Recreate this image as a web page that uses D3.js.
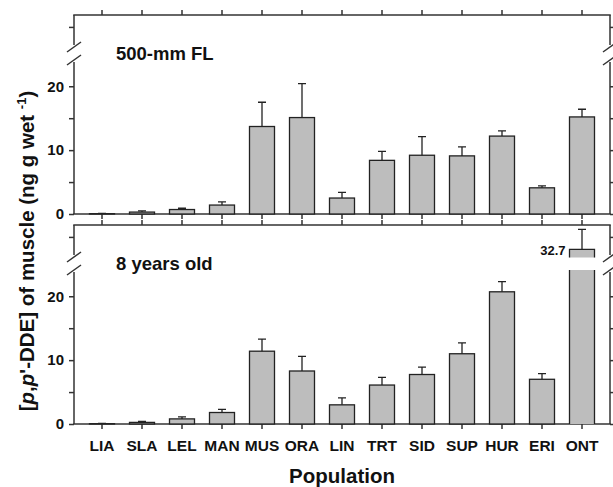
<!DOCTYPE html>
<html>
<head>
<meta charset="utf-8">
<script src="https://cdn.jsdelivr.net/npm/d3@7"></script>
<style>
  body { margin: 0; background: #fff; }
  text { font-family: "Liberation Sans", Arial, sans-serif; font-weight: bold; fill: #111; }
</style>
</head>
<body>
<div id="chart"></div>
<script>
// populations along the x axis
const categories = ["LIA", "SLA", "LEL", "MAN", "MUS", "ORA", "LIN", "TRT", "SID", "SUP", "HUR", "ERI", "ONT"];

// 500-mm fork length (means, upper error)
const fl500 = [0.05, 0.3, 0.7, 1.4, 13.7, 15.1, 2.5, 8.4, 9.2, 9.1, 12.2, 4.1, 15.2];
const fl500Err = [0.05, 0.2, 0.2, 0.5, 3.8, 5.3, 0.9, 1.4, 2.9, 1.4, 0.8, 0.3, 1.2];

// 8 years old
const yr8 = [0.05, 0.25, 0.8, 1.8, 11.4, 8.3, 3.0, 6.1, 7.75, 11.0, 20.7, 7.0, 32.7];
const yr8Err = [0.05, 0.15, 0.3, 0.5, 1.9, 2.3, 1.1, 1.2, 1.15, 1.7, 1.6, 0.9, 3.7];

const panelLabels = ["500-mm FL", "8 years old"];
const lowerTicks = [0, 5, 10, 15, 20];
const upperTicks = [35];
const lowerDomain = [0, 23.8];
const upperDomain = [31.2, 37.2];

const W = 613, H = 487;
const left = 74, right = 610;

const svg = d3.select("#chart").append("svg")
    .attr("width", W)
    .attr("height", H);

const x = d3.scaleBand()
    .domain(categories)
    .range([82, 602])
    .paddingInner(0.375)
    .paddingOuter(0.1875);

const stroke = "#333";
const barFill = "#bdbdbd";

function drawPanel(T, values, errs, label, showLabels) {
    const g = svg.append("g");

    const yLow = d3.scaleLinear().domain(lowerDomain).range([T + 199, T + 47]);
    const yUp = d3.scaleLinear().domain(upperDomain).range([T + 32.5, T]);

    const fmt = d => (d % 10 === 0 ? d : "");

    // left axes (lower + upper segment), right side mirrors them
    [[yLow, lowerTicks], [yUp, upperTicks]].forEach(([s, tv]) => {
        const ax = g.append("g")
            .attr("transform", `translate(${left},0)`)
            .call(d3.axisLeft(s).tickValues(tv).tickFormat(fmt).tickSize(5).tickSizeOuter(0).tickPadding(5));
        ax.selectAll("path, line").attr("stroke", stroke).attr("stroke-width", 1.5);
        ax.selectAll("text").style("font-size", "15px").attr("fill", "#111");
        ax.select(".domain").attr("d", `M0,${s.range()[0] - (s === yUp ? 2.5 : 0)}V${s.range()[1]}`);

        const axr = g.append("g")
            .attr("transform", `translate(${right},0)`)
            .call(d3.axisRight(s).tickValues(tv).tickFormat("").tickSize(5).tickSizeOuter(0));
        axr.selectAll("path, line").attr("stroke", stroke).attr("stroke-width", 1.5);
        axr.select(".domain").attr("d", `M0,${s.range()[0] - (s === yUp ? 2.5 : 0)}V${s.range()[1]}`);
    });

    // axis break marks
    [left, right].forEach(px => {
        [T + 32, T + 45].forEach(py => {
            g.append("line")
                .attr("x1", px - 7).attr("y1", py + 5)
                .attr("x2", px + 7).attr("y2", py - 5)
                .attr("stroke", stroke).attr("stroke-width", 1.5);
        });
    });

    // top and bottom x axes
    const axTop = g.append("g")
        .attr("transform", `translate(0,${T})`)
        .call(d3.axisTop(x).tickSize(5).tickSizeOuter(0).tickFormat(""));
    axTop.select(".domain").remove();
    axTop.selectAll("line").attr("stroke", stroke).attr("stroke-width", 1.5);

    const axBot = g.append("g")
        .attr("transform", `translate(0,${T + 199})`)
        .call(d3.axisBottom(x).tickSize(5).tickSizeOuter(0).tickPadding(11));
    axBot.select(".domain").remove();
    axBot.selectAll("line").attr("stroke", stroke).attr("stroke-width", 1.5);
    axBot.selectAll("text").style("font-size", "15.5px").attr("fill", "#111")
        .style("display", showLabels ? null : "none");

    g.append("line").attr("x1", left - 0.75).attr("x2", right + 0.75)
        .attr("y1", T).attr("y2", T).attr("stroke", stroke).attr("stroke-width", 1.5);
    g.append("line").attr("x1", left - 0.75).attr("x2", right + 0.75)
        .attr("y1", T + 199).attr("y2", T + 199).attr("stroke", stroke).attr("stroke-width", 1.5);

    // bars
    const data = categories.map((c, i) => ({ c, v: values[i], e: errs[i] }));
    const bw = x.bandwidth();

    data.forEach(d => {
        const x0 = x(d.c);
        let topY;
        if (d.v <= lowerDomain[1]) {
            topY = yLow(d.v);
            g.append("rect")
                .attr("x", x0).attr("y", topY)
                .attr("width", bw).attr("height", yLow(0) - topY)
                .attr("fill", barFill).attr("stroke", "#222").attr("stroke-width", 1.3);
        } else {
            // broken bar
            const lowTop = T + 45;
            topY = yUp(d.v);
            const upBot = yUp(upperDomain[0]);
            g.append("rect").attr("x", x0).attr("y", lowTop)
                .attr("width", bw).attr("height", yLow(0) - lowTop).attr("fill", barFill);
            g.append("rect").attr("x", x0).attr("y", topY)
                .attr("width", bw).attr("height", upBot - topY).attr("fill", barFill);
            g.append("path")
                .attr("d", `M${x0},${yLow(0)}V${lowTop}M${x0 + bw},${yLow(0)}V${lowTop}` +
                           `M${x0},${upBot}V${topY}H${x0 + bw}V${upBot}`)
                .attr("fill", "none").attr("stroke", "#222").attr("stroke-width", 1.3);
            g.append("text")
                .attr("x", x0 - 4).attr("y", topY + 6)
                .attr("text-anchor", "end")
                .style("font-size", "13px")
                .text(d.v);
        }
        const scale = d.v + d.e > lowerDomain[1] ? yUp : yLow;
        const errY = scale(d.v + d.e);
        const cx = x0 + bw / 2;
        g.append("path")
            .attr("d", `M${cx},${topY}V${errY}M${cx - 4},${errY}H${cx + 4}`)
            .attr("fill", "none").attr("stroke", "#222").attr("stroke-width", 1.3);
    });

    g.append("text")
        .attr("x", 116).attr("y", T + 45)
        .style("font-size", "18.5px")
        .text(label);
}

drawPanel(15, fl500, fl500Err, panelLabels[0], false);
drawPanel(225, yr8, yr8Err, panelLabels[1], true);

// axis titles
svg.append("text")
    .attr("x", (left + right) / 2).attr("y", 483)
    .attr("text-anchor", "middle")
    .style("font-size", "20.5px")
    .text("Population");

const yt = svg.append("text")
    .attr("transform", "translate(34,251) rotate(-90)")
    .attr("text-anchor", "middle")
    .style("font-size", "20.5px");
yt.append("tspan").text("[");
yt.append("tspan").style("font-style", "italic").text("p");
yt.append("tspan").text(",");
yt.append("tspan").style("font-style", "italic").text("p");
yt.append("tspan").text("'-DDE] of muscle (ng g wet ");
yt.append("tspan").attr("dy", -8).style("font-size", "13px").text("-1");
yt.append("tspan").attr("dy", 8).text(")");
</script>
</body>
</html>
